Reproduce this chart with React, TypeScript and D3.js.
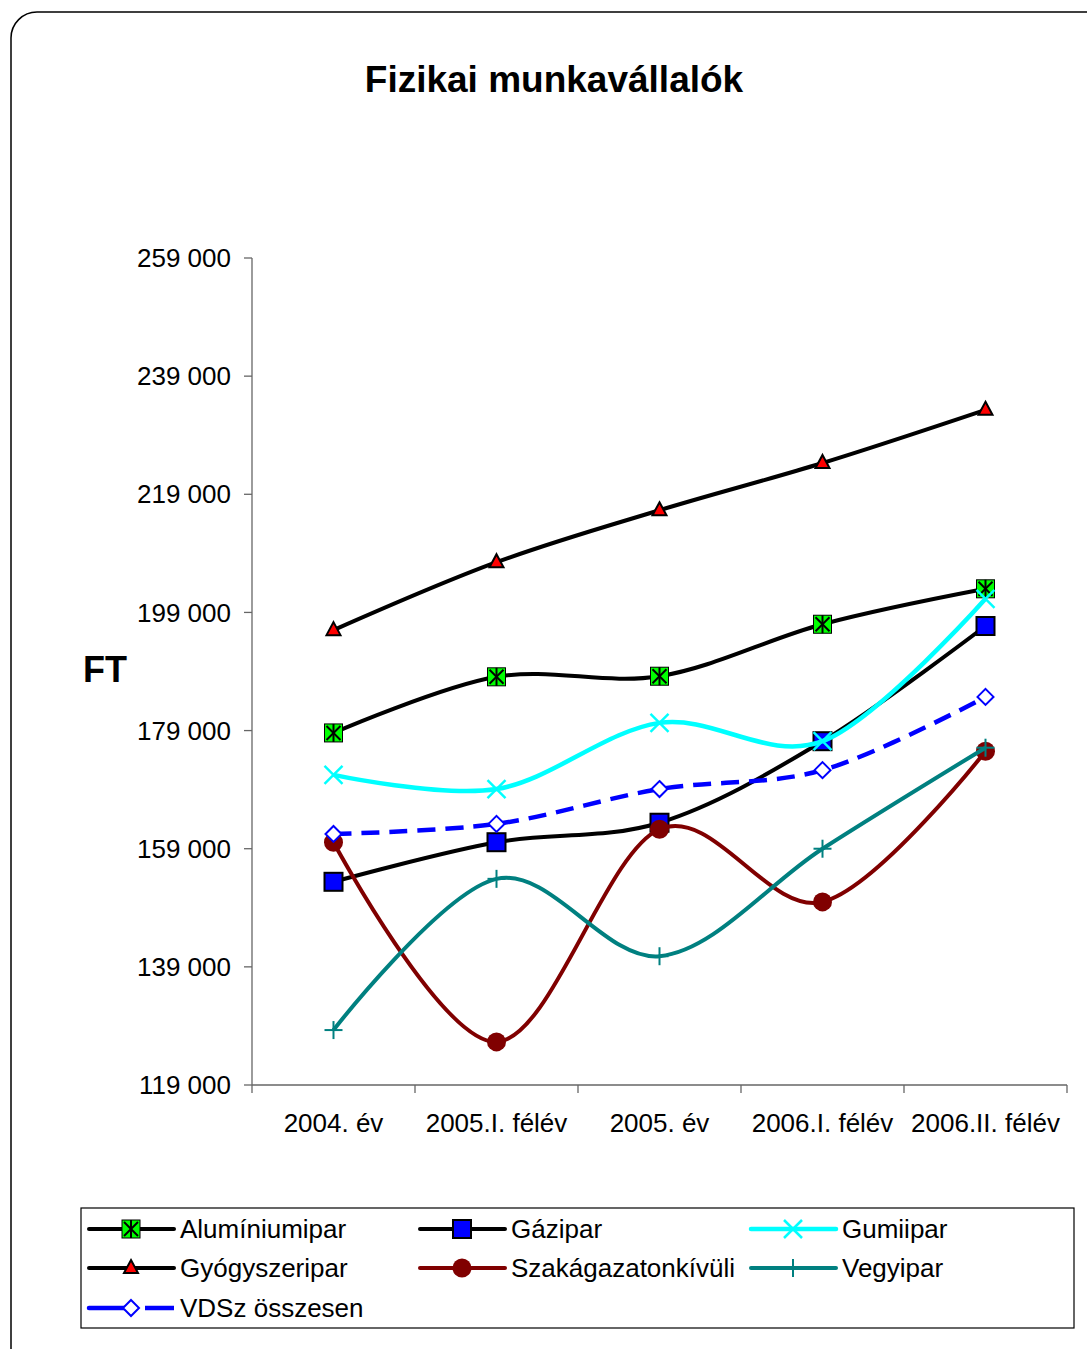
import React from "react";
import * as d3 from "d3";

const categories = ["2004. év", "2005.I. félév", "2005. év", "2006.I. félév", "2006.II. félév"];
const yTicks = [119000, 139000, 159000, 179000, 199000, 219000, 239000, 259000];

const aluminium = [178600, 188100, 188200, 197000, 203000];
const gaz = [153400, 160100, 163400, 177200, 196700];
const gumi = [171500, 169100, 180300, 177200, 201300];
const gyogy = [196000, 207500, 216300, 224300, 233300];
const szak = [160100, 126300, 162300, 150000, 175500];
const vegy = [128300, 153900, 140800, 159000, 176100];
const vdsz = [161500, 163200, 169100, 172300, 184700];

const seriesNames = [
  "Alumíniumipar",
  "Gázipar",
  "Gumiipar",
  "Gyógyszeripar",
  "Szakágazatonkívüli",
  "Vegyipar",
  "VDSz összesen",
];

type Kind = "alu" | "gaz" | "gumi" | "gyogy" | "szak" | "vegy" | "vdsz";
const series: { name: string; values: number[]; color: string; kind: Kind; dash?: string; width: number }[] = [
  { name: seriesNames[0], values: aluminium, color: "#000000", kind: "alu", width: 4 },
  { name: seriesNames[1], values: gaz, color: "#000000", kind: "gaz", width: 4 },
  { name: seriesNames[2], values: gumi, color: "#00FFFF", kind: "gumi", width: 4.5 },
  { name: seriesNames[3], values: gyogy, color: "#000000", kind: "gyogy", width: 4 },
  { name: seriesNames[4], values: szak, color: "#800000", kind: "szak", width: 4 },
  { name: seriesNames[5], values: vegy, color: "#008080", kind: "vegy", width: 4 },
  { name: seriesNames[6], values: vdsz, color: "#0000FF", kind: "vdsz", dash: "18,10", width: 4.5 },
];

const FONT = "'Liberation Sans', Arial, sans-serif";

function Marker({ kind, x, y }: { kind: Kind; x: number; y: number }) {
  switch (kind) {
    case "alu":
      return (
        <g>
          <rect x={x - 9} y={y - 9} width={18} height={18} fill="#00FF00" stroke="#000" strokeWidth={1} />
          <line x1={x - 7} y1={y - 7} x2={x + 7} y2={y + 7} stroke="#000" strokeWidth={2} />
          <line x1={x + 7} y1={y - 7} x2={x - 7} y2={y + 7} stroke="#000" strokeWidth={2} />
          <line x1={x} y1={y - 9} x2={x} y2={y + 9} stroke="#000" strokeWidth={2} />
        </g>
      );
    case "gaz":
      return <rect x={x - 9} y={y - 9} width={18} height={18} fill="#0000FF" stroke="#000" strokeWidth={2} />;
    case "gumi":
      return (
        <g stroke="#00FFFF" strokeWidth={2.5}>
          <line x1={x - 9} y1={y - 9} x2={x + 9} y2={y + 9} />
          <line x1={x + 9} y1={y - 9} x2={x - 9} y2={y + 9} />
        </g>
      );
    case "gyogy":
      return (
        <path
          d={`M${x},${y - 8} L${x + 7},${y + 5} L${x - 7},${y + 5} Z`}
          fill="#FF0000"
          stroke="#000"
          strokeWidth={2}
          strokeLinejoin="miter"
        />
      );
    case "szak":
      return <circle cx={x} cy={y} r={9.5} fill="#800000" />;
    case "vegy":
      return (
        <g stroke="#008080" strokeWidth={2}>
          <line x1={x - 9} y1={y} x2={x + 9} y2={y} />
          <line x1={x} y1={y - 9} x2={x} y2={y + 9} />
        </g>
      );
    case "vdsz":
      return (
        <path
          d={`M${x},${y - 8} L${x + 8},${y} L${x},${y + 8} L${x - 8},${y} Z`}
          fill="#FFFFFF"
          stroke="#0000FF"
          strokeWidth={2}
        />
      );
  }
}

export default function App() {
  const W = 1087;
  const H = 1349;
  const x = d3.scaleBand<string>().domain(categories).range([252, 1067]).padding(0);
  const y = d3.scaleLinear().domain([119000, 259000]).range([1085, 258]);
  const cx = (c: string) => (x(c) as number) + x.bandwidth() / 2;

  const line = d3
    .line<number>()
    .x((_, i) => cx(categories[i]))
    .y((v) => y(v))
    .curve(d3.curveCardinal.tension(0));

  const boundaries = [...categories.map((c) => x(c) as number), 1067];
  const fmt = (v: number) => d3.format(",")(v).replace(/,/g, " ");

  const legendCols = [89, 420, 751];
  const legendRows = [1229, 1268, 1308];

  return (
    <svg
      width={W}
      height={H}
      style={{ position: "absolute", left: 0, top: 0, fontFamily: FONT }}
    >
      <rect x={0} y={0} width={W} height={H} fill="#fff" />
      <rect x={11} y={12} width={1110} height={1370} rx={26} ry={26} fill="none" stroke="#000" strokeWidth={1.5} />

      <text x={554} y={92} textAnchor="middle" fontSize={37} fontWeight="bold" fill="#000">
        Fizikai munkavállalók
      </text>
      <text x={83} y={682} fontSize={36} fontWeight="bold" fill="#000">
        FT
      </text>

      {/* y axis */}
      <line x1={252} y1={258} x2={252} y2={1085} stroke="#666" strokeWidth={1.3} />
      {yTicks.map((t) => (
        <g key={t}>
          <line x1={244} y1={y(t)} x2={252} y2={y(t)} stroke="#666" strokeWidth={1.3} />
          <text x={231} y={y(t)} dy="0.35em" textAnchor="end" fontSize={26} fill="#000">
            {fmt(t)}
          </text>
        </g>
      ))}

      {/* x axis */}
      <line x1={252} y1={1085} x2={1067} y2={1085} stroke="#666" strokeWidth={1.3} />
      {boundaries.map((b, i) => (
        <line key={i} x1={b} y1={1085} x2={b} y2={1093} stroke="#666" strokeWidth={1.3} />
      ))}
      {categories.map((c) => (
        <text key={c} x={cx(c)} y={1123} dy="0.35em" textAnchor="middle" fontSize={26} fill="#000">
          {c}
        </text>
      ))}

      {/* series */}
      {series.map((s) => (
        <g key={s.name}>
          <path
            d={line(s.values) as string}
            fill="none"
            stroke={s.color}
            strokeWidth={s.width}
            strokeDasharray={s.dash}
            strokeLinejoin="round"
          />
          {s.values.map((v, i) => (
            <Marker key={i} kind={s.kind} x={cx(categories[i])} y={y(v)} />
          ))}
        </g>
      ))}

      {/* legend */}
      <rect x={81} y={1208} width={993} height={120} fill="#fff" stroke="#000" strokeWidth={1.2} />
      {series.map((s, i) => {
        const lx = legendCols[i % 3];
        const ly = legendRows[Math.floor(i / 3)];
        return (
          <g key={s.name}>
            {s.dash ? (
              <g>
                <line x1={lx} y1={ly} x2={lx + 38} y2={ly} stroke={s.color} strokeWidth={s.width} strokeLinecap="round" />
                <line x1={lx + 56} y1={ly} x2={lx + 85} y2={ly} stroke={s.color} strokeWidth={s.width} />
              </g>
            ) : (
              <line x1={lx} y1={ly} x2={lx + 85} y2={ly} stroke={s.color} strokeWidth={s.width} strokeLinecap="round" />
            )}
            <Marker kind={s.kind} x={lx + 42} y={ly} />
            <text x={lx + 91} y={ly} dy="0.35em" fontSize={26} fill="#000">
              {s.name}
            </text>
          </g>
        );
      })}
    </svg>
  );
}
